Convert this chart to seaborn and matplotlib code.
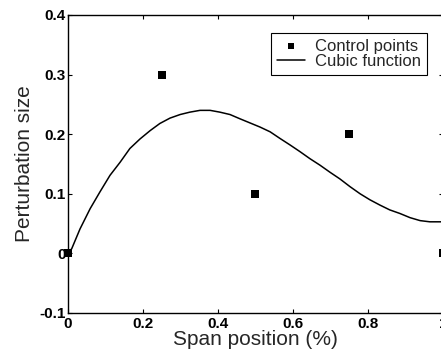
import matplotlib
matplotlib.use("Agg")
import matplotlib.pyplot as plt
import seaborn as sns
import pandas as pd

# Control points
ctrl_x = [0.0, 0.25, 0.5, 0.75, 1.0]
ctrl_y = [0.0, 0.30, 0.10, 0.20, 0.0]

# Cubic function
curve_x = [0.0, 0.01, 0.032, 0.059, 0.085, 0.112, 0.139, 0.165, 0.192, 0.219,
           0.245, 0.272, 0.299, 0.325, 0.352, 0.379, 0.405, 0.432, 0.458,
           0.485, 0.512, 0.539, 0.565, 0.592, 0.618, 0.645, 0.672, 0.699,
           0.725, 0.752, 0.779, 0.805, 0.832, 0.858, 0.885, 0.912, 0.939,
           0.965, 0.995, 1.0]
curve_y = [0.0, 0.008, 0.041, 0.075, 0.103, 0.131, 0.153, 0.176, 0.192, 0.206,
           0.218, 0.227, 0.233, 0.237, 0.240, 0.240, 0.237, 0.233, 0.226,
           0.219, 0.212, 0.204, 0.193, 0.182, 0.171, 0.159, 0.148, 0.136,
           0.125, 0.112, 0.100, 0.090, 0.081, 0.073, 0.067, 0.060, 0.055,
           0.053, 0.053, 0.053]

x_ticks = [0, 0.2, 0.4, 0.6, 0.8, 1.0]
x_tick_labels = ["0", "0.2", "0.4", "0.6", "0.8", "1"]
y_ticks = [-0.1, 0, 0.1, 0.2, 0.3, 0.4]
y_tick_labels = ["-0.1", "0", "0.1", "0.2", "0.3", "0.4"]

sns.set_style("ticks")
plt.rcParams["font.family"] = ["Liberation Sans", "DejaVu Sans"]

fig = plt.figure(figsize=(4.41, 3.58), dpi=100)
ax = fig.add_axes([68 / 441, 45 / 358, 375 / 441, 298 / 358])

ctrl_df = pd.DataFrame({"x": ctrl_x, "y": ctrl_y})
curve_df = pd.DataFrame({"x": curve_x, "y": curve_y})

sns.scatterplot(data=ctrl_df, x="x", y="y", marker="s", s=30, color="black",
                edgecolor="black", linewidth=0, ax=ax, label="Control points",
                clip_on=False, zorder=3)
sns.lineplot(data=curve_df, x="x", y="y", sort=False, estimator=None,
             color="black", linewidth=1.1, ax=ax, label="Cubic function")

ax.set_xlim(0, 1)
ax.set_ylim(-0.1, 0.4)
ax.set_xticks(x_ticks)
ax.set_xticklabels(x_tick_labels)
ax.set_yticks(y_ticks)
ax.set_yticklabels(y_tick_labels)
ax.tick_params(direction="in", length=3, width=0.8, top=True, right=True,
               labelsize=11, colors="black")
ax.tick_params(axis="y", pad=1.5)
ax.tick_params(axis="x", pad=3)
for lab in ax.get_xticklabels() + ax.get_yticklabels():
    lab.set_fontweight("bold")
for sp in ax.spines.values():
    sp.set_visible(True)
    sp.set_color("black")
    sp.set_linewidth(1.0)

ax.set_xlabel("Span position (%)", fontsize=15, labelpad=-1)
ax.set_ylabel("Perturbation size", fontsize=15, labelpad=4)

leg = ax.legend(loc="upper right", bbox_to_anchor=(0.957, 0.940),
                borderaxespad=0, fontsize=12, frameon=True, fancybox=False,
                edgecolor="black", framealpha=1, borderpad=0.35,
                labelspacing=0.0, handletextpad=0.6, handlelength=1.7,
                markerscale=0.8)
leg.get_frame().set_linewidth(0.8)

fig.savefig("out.png", dpi=100)
